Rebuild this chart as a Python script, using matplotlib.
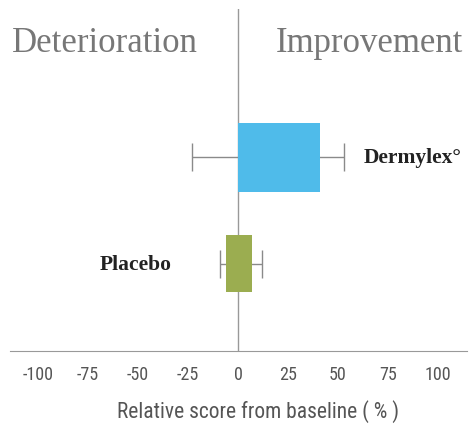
import numpy as np
import matplotlib.pyplot as plt
from matplotlib import font_manager

# data
labels = ["Placebo", "Dermylex°"]
bar_lo = [-6, 0]
bar_hi = [7, 41]
whisk_lo = [-9, -23]
whisk_hi = [12, 53]
colors = ["#9BAD50", "#4FBBEA"]
heights = [0.54, 0.65]
ticks = [-100, -75, -50, -25, 0, 25, 50, 75, 100]

# pick a condensed sans if one is there
names = {f.name for f in font_manager.fontManager.ttflist}
cond = "DejaVu Sans"
for n in ["Liberation Sans Narrow", "DejaVu Sans Condensed", "Roboto Condensed", "Open Sans Condensed"]:
    if n in names:
        cond = n
        break
cond_fp = dict(family=[cond, "DejaVu Sans"], fontstretch="condensed")

W, H = 469, 431
fig = plt.figure(figsize=(W / 100, H / 100), dpi=100)
ax = fig.add_axes([10 / W, (H - 352) / H, 457 / W, 342 / H])

ypos = np.arange(len(labels))
lo = np.array(bar_lo)
hi = np.array(bar_hi)
mid = (lo + hi) / 2
xerr = [mid - np.array(whisk_lo), np.array(whisk_hi) - mid]

ax.axvline(0, color="#999999", lw=1.0, zorder=1)
ax.errorbar(mid, ypos, xerr=xerr, fmt="none", ecolor="#8a8a8a", elinewidth=1.0,
            capsize=10, capthick=1.0, zorder=2)
ax.barh(ypos, hi - lo, left=lo, height=heights, color=colors, zorder=3)

ax.set_xlim(-114, 114.5)
ax.set_ylim(-0.825, 2.40)
for s in ["top", "right", "left"]:
    ax.spines[s].set_visible(False)
ax.spines["bottom"].set_color("#999999")
ax.set_yticks([])
ax.set_xticks(ticks)
ax.set_xticklabels([str(t) for t in ticks], fontsize=13, color="#555555", **cond_fp)
ax.tick_params(axis="x", length=0, pad=10)
ax.set_xlabel("Relative score from baseline ( % )", fontsize=15.5, color="#555555",
              va="center", **cond_fp)
ax.xaxis.set_label_coords(0.543, -0.175)

# category names
ax.text(whisk_hi[1] + 10, ypos[1], labels[1], family="Liberation Serif", fontweight="bold",
        fontsize=15.5, color="#222222", ha="left", va="center")
ax.text(whisk_lo[0] - 24, ypos[0], labels[0], family="Liberation Serif", fontweight="bold",
        fontsize=15.5, color="#222222", ha="right", va="center")

fig.text(105 / W, 1 - 43 / H, "Deterioration", family="Liberation Serif", fontsize=25,
         color="#777777", ha="center", va="center")
fig.text(369 / W, 1 - 43 / H, "Improvement", family="Liberation Serif", fontsize=25,
         color="#777777", ha="center", va="center")

fig.savefig("out.png", dpi=100)
